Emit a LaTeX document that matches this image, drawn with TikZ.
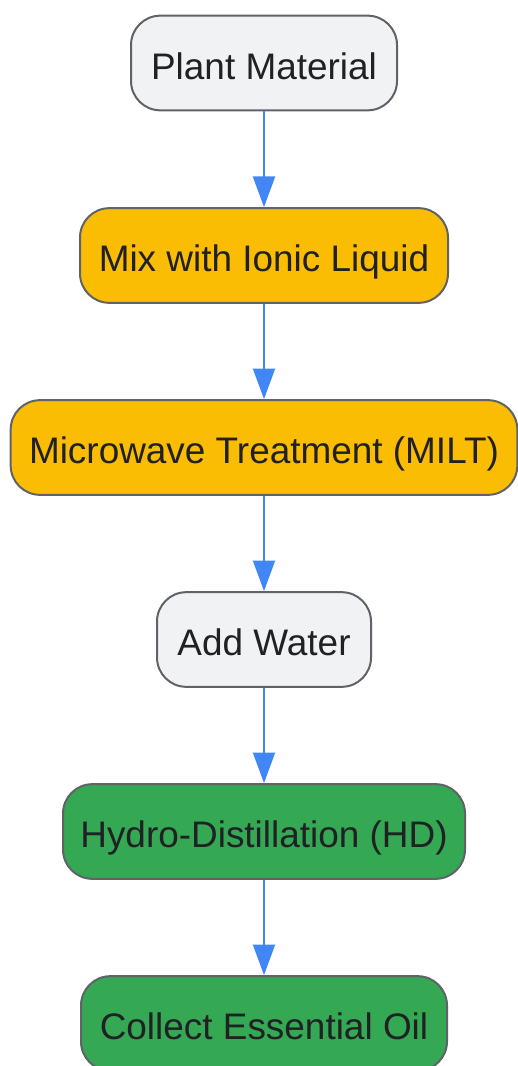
\documentclass[tikz,border=0pt]{standalone}
\usepackage{fontspec}
\setmainfont{Liberation Sans}
\usepackage{tikz}
\usetikzlibrary{arrows.meta, positioning}

\definecolor{greyfill}{HTML}{F1F2F4}
\definecolor{yellowfill}{HTML}{FBBC04}
\definecolor{greenfill}{HTML}{34A853}
\definecolor{edgegrey}{HTML}{5F6368}
\definecolor{arrowblue}{HTML}{4285F4}
\definecolor{textdark}{HTML}{202124}

\begin{document}
\begin{tikzpicture}[x=0.75pt, y=-0.75pt,
  stage/.style={draw=edgegrey, line width=1.5pt, rectangle, rounded corners=22pt,
    minimum height=71pt, text height=24.5pt, text depth=0pt, text=textdark,
    font=\fontsize{27.7}{33}\selectfont},
  flow/.style={-{Triangle[length=23pt, width=16.5pt]}, draw=arrowblue, line width=1.5pt}]
\useasboundingbox (0,0) rectangle (517,1066);
% Process steps
\node[stage, fill=greyfill, minimum width=199.5pt] (plant) at (264,63) {Plant Material};
\node[stage, fill=yellowfill, minimum width=276pt] (mix) at (264,255.5) {Mix with Ionic Liquid};
\node[stage, fill=yellowfill, minimum width=380pt] (milt) at (264,447.5) {Microwave Treatment (MILT)};
\node[stage, fill=greyfill, minimum width=160.5pt] (water) at (264,639.5) {Add Water};
\node[stage, fill=greenfill, minimum width=301.5pt] (hd) at (264,831.5) {Hydro-Distillation (HD)};
\node[stage, fill=greenfill, minimum width=274.5pt] (oil) at (264,1023.5) {Collect Essential Oil};

\draw[flow] (plant) -- (mix);
\draw[flow] (mix) -- (milt);
\draw[flow] (milt) -- (water);
\draw[flow] (water) -- (hd);
\draw[flow] (hd) -- (oil);
\end{tikzpicture}
\end{document}
